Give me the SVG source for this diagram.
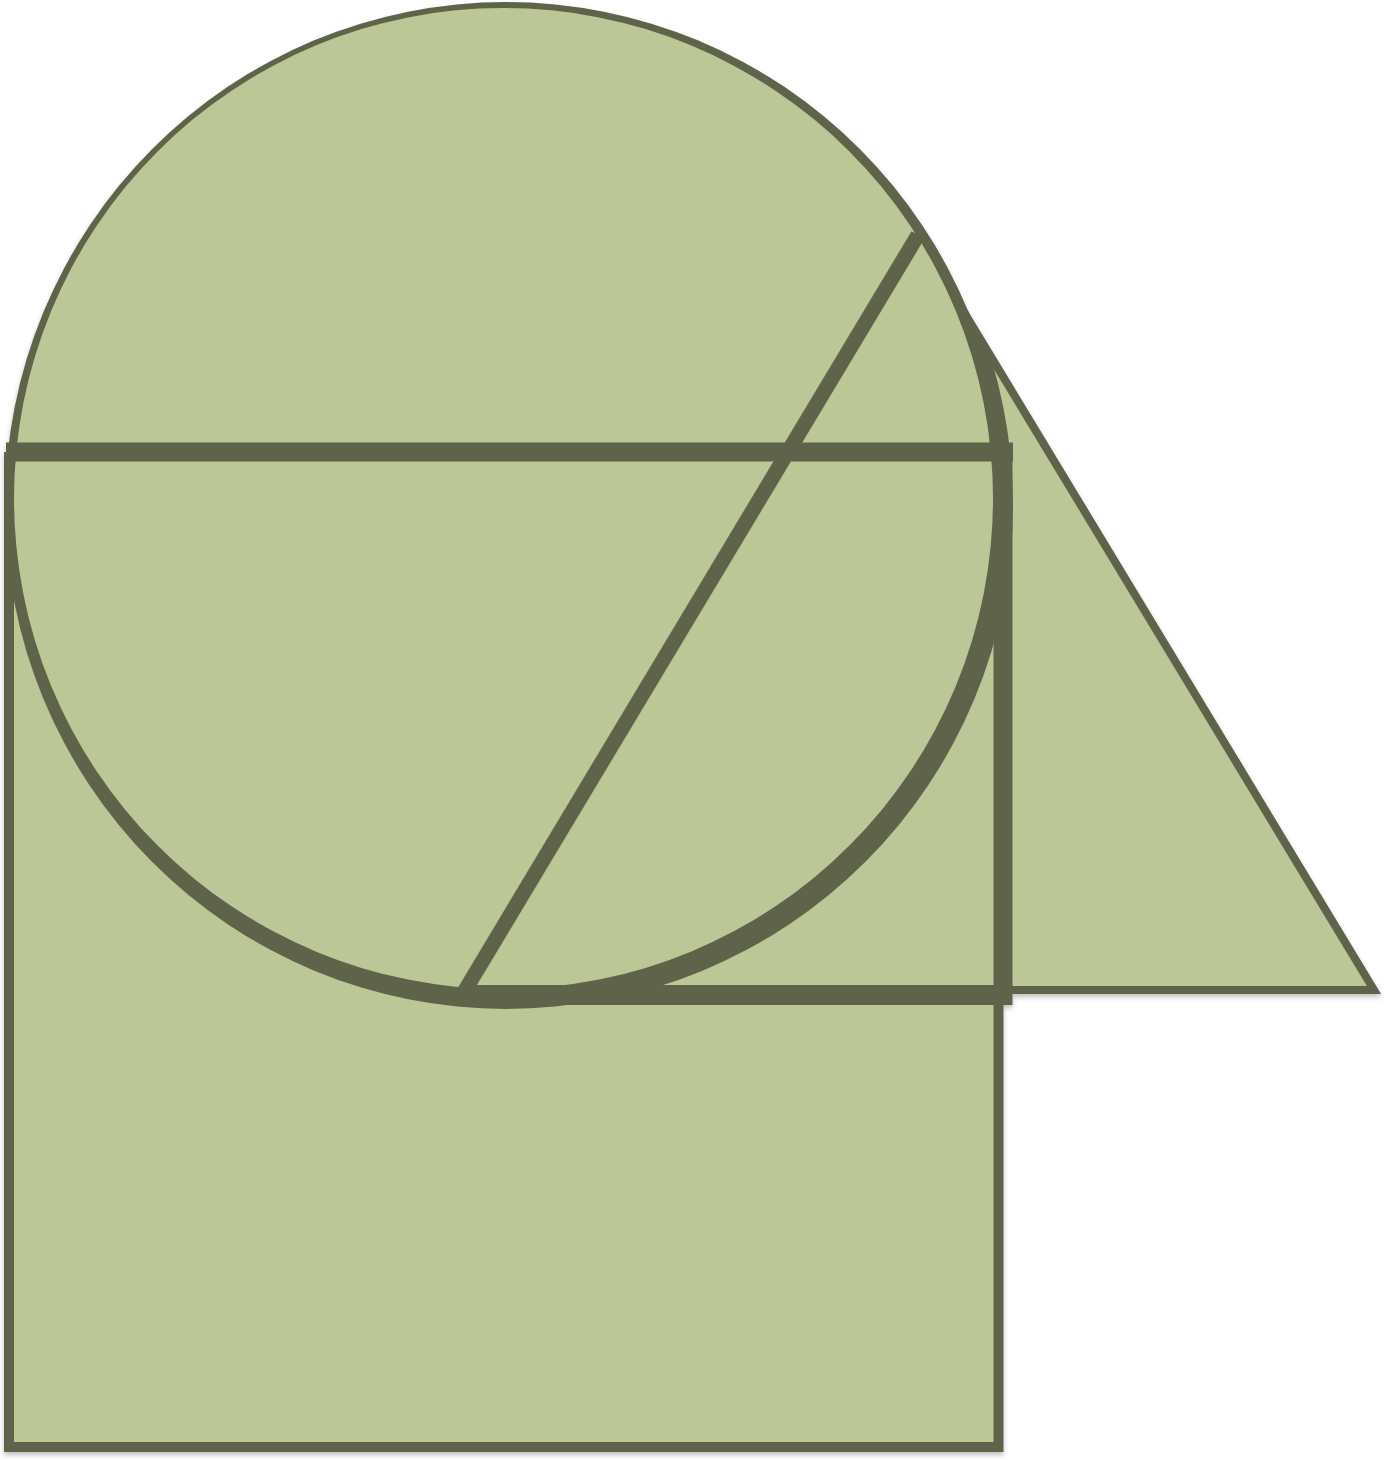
<svg xmlns="http://www.w3.org/2000/svg" width="1387" height="1460" viewBox="0 0 1387 1460">
  <defs>
    <filter id="sh" x="-5%" y="-5%" width="110%" height="110%">
      <feDropShadow dx="0" dy="3" stdDeviation="2.5" flood-color="#000000" flood-opacity="0.25"/>
    </filter>
    <clipPath id="triClip">
      <polygon points="600,236 918,236 1402,1040 600,1040"/>
    </clipPath>
  </defs>
  <style>
    .f { fill: #bcc797; }
    .s { stroke: #5e644a; fill: none; }
    .d { fill: #5e644a; }
    .o { fill: #bcc797; stroke: #5e644a; }
  </style>
  <rect width="1387" height="1460" fill="#ffffff"/>
  <g filter="url(#sh)">
    <g id="square">
      <rect class="o" x="9" y="457" width="989.5" height="990" stroke-width="10"/>
    </g>
    <g id="triangle">
      <polygon class="o" points="464,990 918,236 1374,990" stroke-width="8" stroke-linejoin="miter" stroke-miterlimit="10"/>
    </g>
    <g id="circle">
      <ellipse class="d" cx="506" cy="505.5" rx="501" ry="503.5"/>
      <ellipse class="d" cx="510" cy="505.5" rx="503" ry="503.5" clip-path="url(#triClip)"/>
      <ellipse class="f" cx="503.5" cy="498.5" rx="489.5" ry="490.5"/>
    </g>
    <g id="lines">
      <line class="s" x1="918" y1="235" x2="464" y2="992" stroke-width="15"/>
      <line class="s" x1="462" y1="995" x2="1012" y2="995" stroke-width="20"/>
      <line class="s" x1="6" y1="452" x2="1013" y2="452" stroke-width="19"/>
      <line class="s" x1="1003" y1="443" x2="1003" y2="1005" stroke-width="19"/>
    </g>
  </g>
</svg>
